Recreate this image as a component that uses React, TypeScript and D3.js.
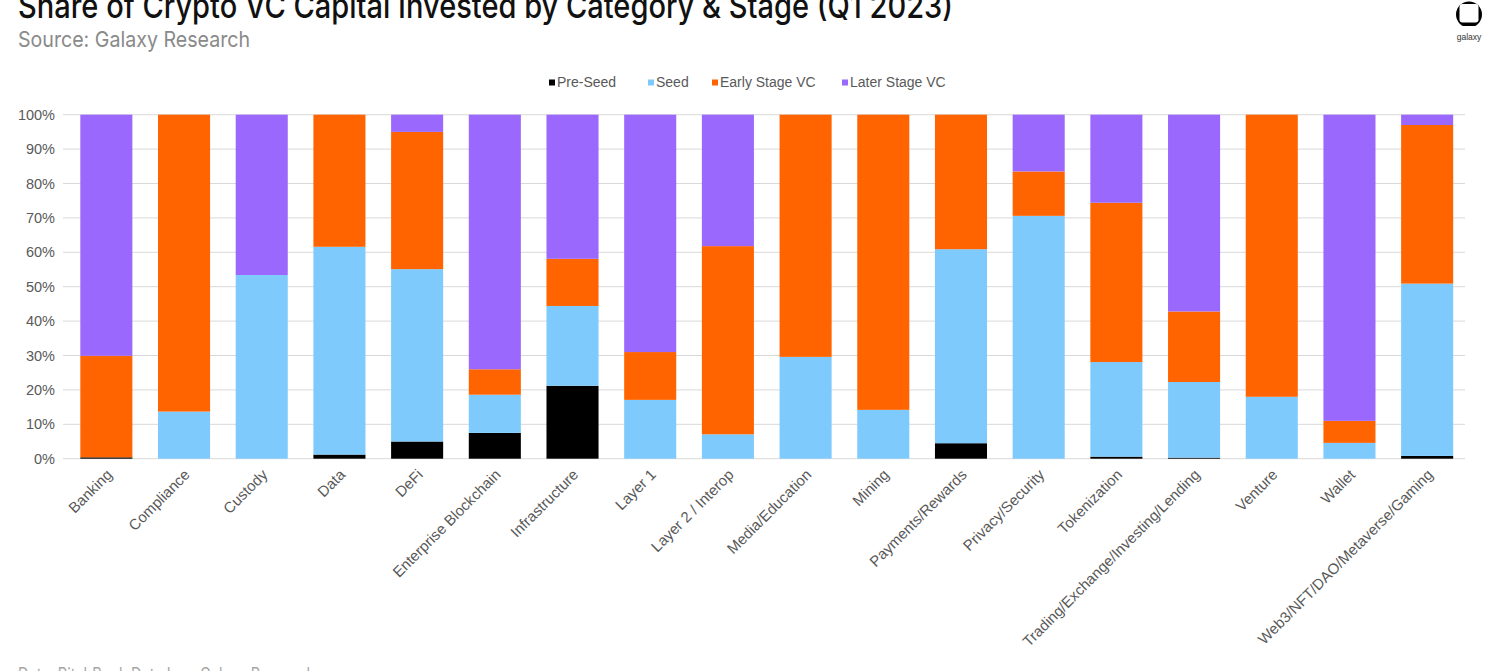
import React, { useEffect, useRef } from 'react'
import * as d3 from 'd3'

// categories along the x axis
const categories = [
    'Banking', 'Compliance', 'Custody', 'Data', 'DeFi', 'Enterprise Blockchain',
    'Infrastructure', 'Layer 1', 'Layer 2 / Interop', 'Media/Education', 'Mining',
    'Payments/Rewards', 'Privacy/Security', 'Tokenization',
    'Trading/Exchange/Investing/Lending', 'Venture', 'Wallet',
    'Web3/NFT/DAO/Metaverse/Gaming',
]

// share of capital per stage, in %
const preSeed = [0.4, 0, 0, 1.2, 5.0, 7.5, 21.2, 0, 0, 0, 0, 4.5, 0, 0.6, 0.3, 0, 0, 0.8]
const seed = [0, 13.7, 53.4, 60.4, 50.1, 11.1, 23.2, 17.1, 7.1, 29.6, 14.2, 56.4, 70.6, 27.5, 22.0, 18.0, 4.6, 50.1]
const earlyStage = [29.5, 86.3, 0, 38.4, 39.9, 7.4, 13.7, 13.9, 54.7, 70.4, 85.8, 39.1, 12.9, 46.3, 20.5, 82.0, 6.4, 46.1]
const laterStage = [70.1, 0, 46.6, 0, 5.0, 74.0, 41.9, 69.0, 38.2, 0, 0, 0, 16.5, 25.6, 57.2, 0, 89.0, 3.0]

const seriesNames = ['Pre-Seed', 'Seed', 'Early Stage VC', 'Later Stage VC']
const seriesColors = ['#000000', '#7fcafc', '#ff6400', '#9a68fc']
const yTicks = [0, 10, 20, 30, 40, 50, 60, 70, 80, 90, 100]

const W = 1500
const H = 671
const ARIAL = 'Arial, "Liberation Sans", sans-serif'
const BRAND = 'Inter, "Noto Sans", sans-serif'

export default function App() {
    const container = useRef<SVGSVGElement>(null)

    useEffect(() => {
        const svg = d3.select(container.current)
        svg.selectAll('*').remove()

        const x = d3.scaleBand<string>().domain(categories).range([67.5, 1466]).paddingInner(0.33).paddingOuter(0.165)
        const y = d3.scaleLinear().domain([0, 100]).range([458.7, 114.7])

        const rows = categories.map((c, i) => ({
            cat: c,
            'Pre-Seed': preSeed[i],
            'Seed': seed[i],
            'Early Stage VC': earlyStage[i],
            'Later Stage VC': laterStage[i],
        }))
        const stacked = d3.stack<any>().keys(seriesNames)(rows)

        // title block
        svg.append('text')
            .attr('x', 18).attr('y', 18)
            .attr('font-family', BRAND)
            .attr('font-size', 34).attr('font-weight', 500)
            .attr('textLength', 935).attr('lengthAdjust', 'spacingAndGlyphs')
            .attr('fill', '#111')
            .text('Share of Crypto VC Capital Invested by Category & Stage (Q1 2023)')

        svg.append('text')
            .attr('x', 18).attr('y', 47)
            .attr('font-family', BRAND)
            .attr('font-size', 22)
            .attr('textLength', 232).attr('lengthAdjust', 'spacingAndGlyphs')
            .attr('fill', '#8a8a8a')
            .text('Source: Galaxy Research')

        // galaxy logo
        const logo = svg.append('g')
        logo.append('circle').attr('cx', 1469).attr('cy', 14.5).attr('r', 13).attr('fill', '#000')
        logo.append('rect').attr('x', 1455).attr('y', 26).attr('width', 28).attr('height', 6).attr('fill', '#fff')
        logo.append('rect').attr('x', 1459.5).attr('y', 4).attr('width', 19).attr('height', 18.5).attr('rx', 3).attr('fill', '#fff')
        logo.append('text')
            .attr('x', 1469).attr('y', 40).attr('text-anchor', 'middle')
            .attr('font-family', ARIAL).attr('font-size', 8.5)
            .attr('fill', '#333').text('galaxy')

        // legend
        const legendX = [549, 648, 712, 842]
        const legend = svg.append('g')
        seriesNames.forEach((name, i) => {
            legend.append('rect')
                .attr('x', legendX[i]).attr('y', 79.5)
                .attr('width', 6).attr('height', 6)
                .attr('fill', seriesColors[i])
            legend.append('text')
                .attr('x', legendX[i] + 8).attr('y', 82.5).attr('dy', '0.35em')
                .attr('font-family', ARIAL).attr('font-size', 14)
                .attr('fill', '#595959').text(name)
        })

        // gridlines + y labels
        svg.append('g')
            .selectAll('line')
            .data(yTicks)
            .enter().append('line')
            .attr('x1', 63).attr('x2', 1465)
            .attr('y1', d => y(d)).attr('y2', d => y(d))
            .attr('stroke', '#d9d9d9').attr('stroke-width', 1)

        svg.append('g')
            .selectAll('text')
            .data(yTicks)
            .enter().append('text')
            .attr('x', 55).attr('y', d => y(d)).attr('dy', '0.35em')
            .attr('text-anchor', 'end')
            .attr('font-family', ARIAL).attr('font-size', 14.5)
            .attr('fill', '#595959')
            .text(d => `${d}%`)

        // stacked bars
        svg.append('g')
            .selectAll('g')
            .data(stacked)
            .enter().append('g')
            .attr('fill', (_d, i) => seriesColors[i])
            .selectAll('rect')
            .data(d => d)
            .enter().append('rect')
            .attr('x', d => x(d.data.cat) as number)
            .attr('width', x.bandwidth())
            .attr('y', d => y(d[1]))
            .attr('height', d => Math.max(0, y(d[0]) - y(d[1])))

        // x labels
        svg.append('g')
            .selectAll('text')
            .data(categories)
            .enter().append('text')
            .attr('transform', d => `translate(${(x(d) as number) + x.bandwidth() / 2 + 3}, 472) rotate(-45)`)
            .attr('dy', '0.35em')
            .attr('text-anchor', 'end')
            .attr('font-family', ARIAL).attr('font-size', 15)
            .attr('fill', '#595959')
            .text(d => d)

        // footer, mostly cut off by the bottom edge
        svg.append('text')
            .attr('x', 18).attr('y', 681)
            .attr('font-family', BRAND)
            .attr('font-size', 18)
            .attr('textLength', 297).attr('lengthAdjust', 'spacingAndGlyphs')
            .attr('fill', '#a6a6a6')
            .text('Data: PitchBook Data Inc., Galaxy Research')
    }, [])

    return (
        <div style={{ position: 'absolute', left: 0, top: 0 }}>
            <svg ref={container} width={W} height={H} style={{ display: 'block', background: '#fff' }} />
        </div>
    )
}
